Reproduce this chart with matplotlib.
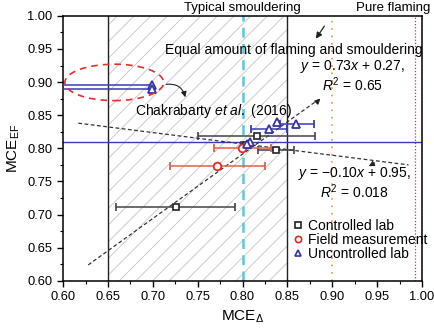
#!/usr/bin/env python3

import matplotlib
matplotlib.use('Agg')
import matplotlib.pyplot as plt
import matplotlib.ticker as mticker
from matplotlib.patches import Ellipse
from matplotlib.lines import Line2D

plt.rcParams['font.family'] = ['Liberation Sans', 'DejaVu Sans']
plt.rcParams['mathtext.fontset'] = 'custom'
plt.rcParams['mathtext.rm'] = 'Liberation Sans'
plt.rcParams['mathtext.it'] = 'Liberation Sans:italic'
plt.rcParams['hatch.linewidth'] = 0.6
plt.rcParams['hatch.color'] = '#c4c4c4'

# controlled lab (MCE_delta, MCE_EF, xerr low, xerr high)
ctrl_x = [0.726, 0.816, 0.837, 0.804]
ctrl_y = [0.711, 0.818, 0.797, 0.805]
ctrl_lo = [0.067, 0.066, 0.020, 0.006]
ctrl_hi = [0.066, 0.065, 0.020, 0.006]

# field measurement
field_x = [0.772, 0.799]
field_y = [0.774, 0.800]
field_lo = [0.053, 0.031]
field_hi = [0.053, 0.033]

# uncontrolled lab
unc_x = [0.838, 0.860, 0.830, 0.808, 0.805, 0.699, 0.699]
unc_y = [0.839, 0.837, 0.829, 0.810, 0.806, 0.895, 0.889]
unc_lo = [0.0, 0.018, 0.020, 0.0, 0.0, 0.10, 0.10]
unc_hi = [0.0, 0.020, 0.020, 0.0, 0.0, 0.0, 0.0]

# fitted lines, drawn between end points
fit1_x = [0.628, 0.884]
fit1_y = [0.624, 0.873]
fit2_x = [0.617, 0.985]
fit2_y = [0.838, 0.775]

ef_ref = 0.81
mce_bounds = [0.65, 0.85]
mce_typical = 0.80
mce_equal = 0.90
mce_pure = 0.992

fs = 10

fig, ax = plt.subplots()
fig.set_size_inches(4.35, 3.3)
fig.subplots_adjust(left=0.145, right=0.970, bottom=0.149, top=0.952)

ax.axvspan(mce_bounds[0], mce_bounds[1], facecolor='none', edgecolor='#c4c4c4', hatch='//', linewidth=0, zorder=0)
for b in mce_bounds:
    ax.axvline(b, color='#222222', lw=1.0, zorder=1)
ax.axvline(mce_typical, color='#5cc6dc', lw=1.8, ls=(0, (4, 2.5)), zorder=1)
ax.axvline(mce_equal, color='#f0a040', lw=1.4, ls=(0, (0.8, 3)), zorder=1)
ax.axvline(mce_pure, color='#d83030', lw=0.9, ls=(0, (1, 1.5)), zorder=1)
ax.axhline(ef_ref, color='#3a3ab8', lw=1.0, zorder=1)

ax.plot(fit1_x, fit1_y, color='#333333', lw=0.9, ls=(0, (3, 2)), zorder=2)
ax.plot(fit2_x, fit2_y, color='#333333', lw=0.9, ls=(0, (3, 2)), zorder=2)

ax.errorbar(ctrl_x, ctrl_y, xerr=[ctrl_lo, ctrl_hi], fmt='s', ms=5, mfc='white', mec='#222222',
            mew=1.2, ecolor='#444444', elinewidth=1.1, capsize=3, zorder=4)
ax.errorbar(field_x, field_y, xerr=[field_lo, field_hi], fmt='o', ms=5.5, mfc='white', mec='#e02a22',
            mew=1.3, ecolor='#e0604c', elinewidth=1.1, capsize=3, zorder=4)
ax.errorbar(unc_x, unc_y, xerr=[unc_lo, unc_hi], fmt='^', ms=6, mfc='white', mec='#3434a8',
            mew=1.3, ecolor='#3a3ab8', elinewidth=1.1, capsize=3, zorder=4)

ax.add_patch(Ellipse((0.657, 0.8995), 0.110, 0.055, fill=False, edgecolor='#e03030', lw=1.2,
                     ls=(0, (4, 3)), zorder=5, clip_on=False))
ax.annotate('', xy=(0.737, 0.873), xytext=(0.712, 0.896),
            arrowprops=dict(arrowstyle='-|>', color='#222222', lw=0.8, mutation_scale=8,
                            connectionstyle='arc3,rad=-0.5'))
ax.text(0.768, 0.857, r'$\mathrm{Chakrabarty}\ \mathit{et\ al.}\ \mathrm{(2016)}$',
        ha='center', va='center', fontsize=fs)

ax.text(0.857, 0.949, 'Equal amount of flaming and smouldering', ha='center', va='center', fontsize=fs)
ax.annotate('', xy=(0.880, 0.962), xytext=(0.893, 0.988),
            arrowprops=dict(arrowstyle='-|>', color='#222222', lw=0.9, mutation_scale=9))

ax.text(0.923, 0.909, '$y$ = 0.73$x$ + 0.27,\n$R^2$ = 0.65', ha='center', va='center', fontsize=fs,
        linespacing=1.0)
ax.annotate('', xy=(0.889, 0.878), xytext=(0.880, 0.866),
            arrowprops=dict(arrowstyle='-|>', color='#222222', lw=0.8, mutation_scale=8))

ax.text(0.925, 0.748, '$y$ = \u22120.10$x$ + 0.95,\n$R^2$ = 0.018', ha='center', va='center', fontsize=fs,
        linespacing=1.0)
ax.annotate('', xy=(0.938, 0.771), xytext=(0.950, 0.780),
            arrowprops=dict(arrowstyle='-|>', color='#222222', lw=0.8, mutation_scale=8))

ax.text(0.80, 1.0072, 'Typical smouldering', ha='center', va='baseline', fontsize=9.5)
ax.text(0.968, 1.0072, 'Pure flaming', ha='center', va='baseline', fontsize=9.5)

handles = [
    Line2D([], [], ls='none', marker='s', ms=4, mfc='white', mec='#222222', mew=1.2),
    Line2D([], [], ls='none', marker='o', ms=4.5, mfc='white', mec='#e02a22', mew=1.2),
    Line2D([], [], ls='none', marker='^', ms=5, mfc='white', mec='#3434a8', mew=1.2),
]
ax.legend(handles, ['Controlled lab', 'Field measurement', 'Uncontrolled lab'], loc='lower left',
          bbox_to_anchor=(0.612, 0.04), frameon=False, fontsize=fs, handlelength=0.8,
          handletextpad=0.3, labelspacing=0.0, borderpad=0.2)

ax.set_xlim(0.60, 1.00)
ax.set_ylim(0.60, 1.00)
ax.set_xticks([0.60, 0.65, 0.70, 0.75, 0.80, 0.85, 0.90, 0.95, 1.00])
ax.set_yticks([0.60, 0.65, 0.70, 0.75, 0.80, 0.85, 0.90, 0.95, 1.00])
ax.set_xticks([0.625, 0.675, 0.725, 0.775, 0.825, 0.875, 0.925, 0.975], minor=True)
ax.set_yticks([0.625, 0.675, 0.725, 0.775, 0.825, 0.875, 0.925, 0.975], minor=True)
ax.xaxis.set_major_formatter(mticker.FormatStrFormatter('%.2f'))
ax.yaxis.set_major_formatter(mticker.FormatStrFormatter('%.2f'))
ax.tick_params(which='major', direction='out', length=4, width=1.0, labelsize=9.3)
ax.tick_params(which='minor', direction='out', length=2.5, width=0.8)
for s in ax.spines.values():
    s.set_linewidth(1.1)

ax.set_xlabel(r'MCE$_{\Delta}$', fontsize=11, labelpad=4)
ax.set_ylabel(r'MCE$_{\mathrm{EF}}$', fontsize=11, labelpad=4)

plt.savefig('out.png', dpi=100)
